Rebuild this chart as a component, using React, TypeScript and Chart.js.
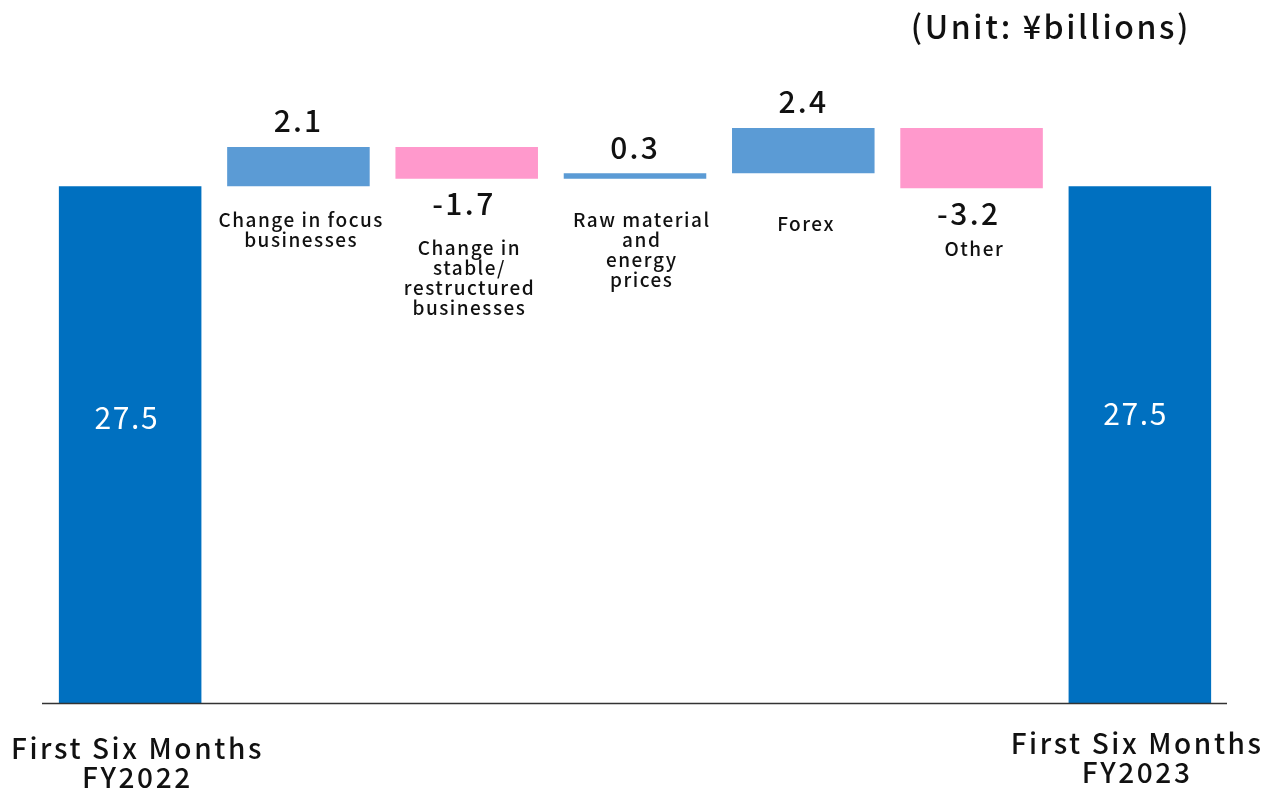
import React, { useEffect, useRef } from "react";
import { Chart, registerables } from "chart.js";

Chart.register(...registerables);

// Operating income bridge (¥ billions)
const startLabel = ["First Six Months", "FY2022"];
const endLabel = ["First Six Months", "FY2023"];
const startTotal = 27.5;
const endTotal = 27.5;
const changeLabels: string[][] = [
  ["Change in focus", "businesses"],
  ["Change in", "stable/", "restructured", "businesses"],
  ["Raw material", "and", "energy", "prices"],
  ["Forex"],
  ["Other"],
];
const changeValues = [2.1, -1.7, 0.3, 2.4, -3.2];
const unitText = "(Unit: ¥billions)";

// Layout tweaks for the annotation text under each change bar (px below bar / value label)
const changeLabelGap = [33, 44, 41, 51, 36];

const COLOR_TOTAL = "#0070C0";
const COLOR_UP = "#5B9BD5";
const COLOR_DOWN = "#FF99CC";
const FONT = '"Noto Sans CJK JP", "Noto Sans", sans-serif';

function buildRanges(): [number, number][] {
  const ranges: [number, number][] = [[0, startTotal]];
  let level = startTotal;
  for (const v of changeValues) {
    const next = Math.round((level + v) * 10) / 10;
    ranges.push([level, next]);
    level = next;
  }
  ranges.push([0, endTotal]);
  return ranges;
}

const fmt = (v: number) => (v < 0 ? "-" : "") + Math.abs(v).toFixed(1);

// centered text with tracking; the trailing letter gap is compensated
function spaced(ctx: CanvasRenderingContext2D, text: string, x: number, y: number, spacing: number) {
  (ctx as any).letterSpacing = `${spacing}px`;
  ctx.fillText(text, x + spacing / 2, y);
}

const annotations = {
  id: "bridgeAnnotations",
  afterDatasetsDraw(chart: any) {
    const { ctx, chartArea } = chart;
    const bars = chart.getDatasetMeta(0).data;
    const yScale = chart.scales.y;
    ctx.save();

    // baseline
    const y0 = yScale.getPixelForValue(0);
    ctx.strokeStyle = "#333333";
    ctx.lineWidth = 1.6;
    ctx.beginPath();
    ctx.moveTo(chartArea.left - 4, y0 + 0.5);
    ctx.lineTo(chartArea.right + 3, y0 + 0.5);
    ctx.stroke();

    ctx.textAlign = "center";
    ctx.textBaseline = "middle";

    // totals inside the end bars
    ctx.fillStyle = "#ffffff";
    ctx.font = `400 30px ${FONT}`;
    const tStart = bars[0];
    spaced(ctx, fmt(startTotal), tStart.x - 4, yScale.getPixelForValue(startTotal / 2) - 27, 1.6);
    const tEnd = bars[bars.length - 1];
    spaced(ctx, fmt(endTotal), tEnd.x - 5, yScale.getPixelForValue(endTotal / 2) - 31, 1.6);

    // change bars: value labels and category text
    changeValues.forEach((v, i) => {
      const bar = bars[i + 1];
      const top = Math.min(bar.y, bar.base);
      const bottom = Math.max(bar.y, bar.base);
      ctx.fillStyle = "#111111";
      ctx.font = `500 30px ${FONT}`;
      let textTop = bottom;
      if (v >= 0) {
        spaced(ctx, fmt(v), bar.x - 1, top - 26, 2.2);
      } else {
        spaced(ctx, fmt(v), bar.x - 4, bottom + 25, 2.4);
        textTop = bottom + 25;
      }
      ctx.font = `500 19px ${FONT}`;
      const lines = changeLabels[i];
      const lx = i === 2 ? bar.x + 6 : bar.x + 2;
      lines.forEach((line, k) => {
        spaced(ctx, line, lx, textTop + changeLabelGap[i] + k * 20, 1.5);
      });
    });

    // category labels under the totals
    ctx.fillStyle = "#111111";
    ctx.font = `500 28px ${FONT}`;
    startLabel.forEach((line, k) => spaced(ctx, line, tStart.x + 6, y0 + 45 + k * 29, 2.6));
    endLabel.forEach((line, k) => spaced(ctx, line, tEnd.x - 4, y0 + 40 + k * 29, 2.6));

    // unit
    ctx.textAlign = "right";
    ctx.font = `500 32px ${FONT}`;
    (ctx as any).letterSpacing = "2.6px";
    ctx.fillText(unitText, 1191, 27);

    ctx.restore();
  },
};

export default function App() {
  const canvasRef = useRef<HTMLCanvasElement | null>(null);

  useEffect(() => {
    document.body.style.margin = "0";
    const ranges = buildRanges();
    const colors = [
      COLOR_TOTAL,
      ...changeValues.map((v) => (v >= 0 ? COLOR_UP : COLOR_DOWN)),
      COLOR_TOTAL,
    ];
    const labels = [
      startLabel.join(" "),
      ...changeLabels.map((l) => l.join(" ")),
      endLabel.join(" "),
    ];
    const chart = new Chart(canvasRef.current as HTMLCanvasElement, {
      type: "bar",
      data: {
        labels,
        datasets: [
          {
            data: ranges as any,
            backgroundColor: colors,
            borderWidth: 0,
            borderSkipped: false,
            barPercentage: 0.847,
            categoryPercentage: 1,
          },
        ],
      },
      options: {
        animation: false,
        responsive: true,
        maintainAspectRatio: false,
        layout: { padding: { left: 46, right: 44, top: 83, bottom: 93 } },
        scales: {
          x: { display: false },
          y: { display: false, min: 0, max: 33 },
        },
        plugins: {
          legend: { display: false },
          tooltip: { enabled: false },
        },
      },
      plugins: [annotations],
    });
    return () => chart.destroy();
  }, []);

  return (
    <div style={{ position: "absolute", left: 0, top: 0, width: 1268, height: 796, background: "#ffffff" }}>
      <canvas ref={canvasRef} />
    </div>
  );
}
